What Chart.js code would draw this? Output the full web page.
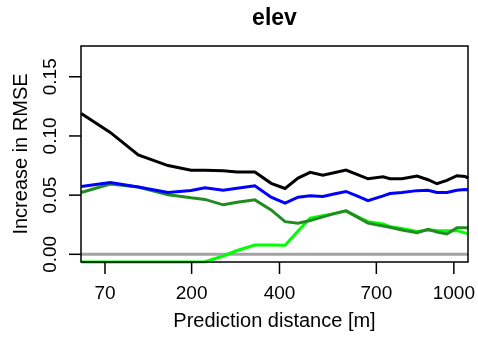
<!DOCTYPE html>
<html>
<head>
<meta charset="utf-8">
<script src="https://cdn.jsdelivr.net/npm/chart.js@4.4.0/dist/chart.umd.min.js"></script>
<style>
  body { margin: 0; background: #fff; }
  #wrap { width: 478px; height: 338px; }
</style>
</head>
<body>
<div id="wrap"><canvas id="chart" width="478" height="338"></canvas></div>
<script>
// prediction distances [m] (x axis is on a square-root scale)
const distances = [46, 76, 112, 158, 199, 226, 264, 295, 337, 378, 415, 451, 486, 524,
  562, 597, 633, 671, 724, 749, 793, 851, 894, 930, 971, 1013, 1048, 1061];

const blackLine = [0.119, 0.103, 0.084, 0.075, 0.071, 0.071, 0.0706, 0.0695, 0.0695, 0.060,
  0.0556, 0.0644, 0.0692, 0.0669, 0.0691, 0.0712, 0.0675, 0.0638, 0.0655, 0.0638,
  0.0638, 0.0661, 0.0630, 0.0596, 0.0624, 0.0664, 0.0658, 0.0644];
const blueLine = [0.0573, 0.0607, 0.0568, 0.0522, 0.0539, 0.0562, 0.0542, 0.0558, 0.0579, 0.0483,
  0.0432, 0.0483, 0.0494, 0.0488, 0.0511, 0.0531, 0.0494, 0.0454, 0.0494, 0.0514,
  0.0522, 0.0538, 0.0541, 0.0522, 0.0522, 0.0541, 0.0547, 0.0545];
const darkGreenLine = [0.0522, 0.0593, 0.0568, 0.0503, 0.0477, 0.0464, 0.0418, 0.0439, 0.0460, 0.0375,
  0.0276, 0.0263, 0.0285, 0.0316, 0.0346, 0.0367, 0.0316, 0.0263, 0.0240, 0.0229,
  0.0206, 0.0183, 0.0212, 0.0189, 0.0172, 0.0225, 0.0225, 0.0223];
const limeLine = [-0.0065, -0.0065, -0.0065, -0.0065, -0.0065, -0.0063, -0.0014, 0.0032, 0.0079, 0.0079,
  0.0076, 0.0197, 0.0305, 0.0325, 0.0346, 0.0367, 0.0320, 0.0276, 0.0257, 0.0234,
  0.0219, 0.0192, 0.0206, 0.0202, 0.0200, 0.0200, 0.0181, 0.0172];

const yTicks = [0, 0.05, 0.10, 0.15];
const yTickLabels = ['0.00', '0.05', '0.10', '0.15'];
const xTicks = [70, 200, 400, 700, 1000];
const xTickLabels = ['70', '200', '400', '700', '1000'];

const FONT = '"Liberation Sans", Arial, sans-serif';

function toPoints(values) {
  return values.map((v, i) => ({ x: Math.sqrt(distances[i]), y: v }));
}

function series(values, color) {
  return {
    data: toPoints(values),
    borderColor: color,
    borderWidth: 3,
    pointRadius: 0,
    tension: 0,
    fill: false,
    clip: 3
  };
}

// R style frame, ticks and labels
const rAxes = {
  id: 'rAxes',
  beforeDatasetsDraw(chart) {
    const ctx = chart.ctx;
    const a = chart.chartArea;
    const y0 = chart.scales.y.getPixelForValue(0);
    ctx.save();
    ctx.strokeStyle = '#a3a3a3';
    ctx.lineWidth = 3;
    ctx.beginPath();
    ctx.moveTo(a.left, y0);
    ctx.lineTo(a.right, y0);
    ctx.stroke();
    ctx.restore();
  },
  afterDraw(chart) {
    const ctx = chart.ctx;
    const a = chart.chartArea;
    const xs = chart.scales.x;
    const ys = chart.scales.y;
    ctx.save();
    ctx.strokeStyle = '#000';
    ctx.fillStyle = '#000';
    ctx.lineWidth = 1.5;
    ctx.strokeRect(a.left, a.top, a.right - a.left, a.bottom - a.top);

    ctx.font = '19px ' + FONT;
    ctx.textAlign = 'center';
    ctx.textBaseline = 'middle';
    yTicks.forEach((v, i) => {
      const y = ys.getPixelForValue(v);
      ctx.beginPath();
      ctx.moveTo(a.left - 12, y);
      ctx.lineTo(a.left, y);
      ctx.stroke();
      ctx.save();
      ctx.translate(51, y);
      ctx.rotate(-Math.PI / 2);
      ctx.fillText(yTickLabels[i], 0, 0);
      ctx.restore();
    });
    xTicks.forEach((d, i) => {
      const x = xs.getPixelForValue(Math.sqrt(d));
      ctx.beginPath();
      ctx.moveTo(x, a.bottom);
      ctx.lineTo(x, a.bottom + 12);
      ctx.stroke();
      ctx.fillText(xTickLabels[i], x, 294);
    });

    ctx.font = '20px ' + FONT;
    ctx.textBaseline = 'alphabetic';
    ctx.fillText('Prediction distance [m]', (a.left + a.right) / 2, 327);
    ctx.save();
    ctx.translate(21, (a.top + a.bottom) / 2);
    ctx.rotate(-Math.PI / 2);
    ctx.textBaseline = 'middle';
    ctx.fillText('Increase in RMSE', 0, 0);
    ctx.restore();

    ctx.font = 'bold 23px ' + FONT;
    ctx.fillText('elev', (a.left + a.right) / 2, 25);
    ctx.restore();
  }
};

new Chart(document.querySelector('#chart'), {
  type: 'line',
  data: {
    datasets: [
      series(blackLine, '#000000'),
      series(blueLine, '#0000ff'),
      series(darkGreenLine, '#228b22'),
      series(limeLine, '#00ff00')
    ]
  },
  options: {
    responsive: false,
    animation: false,
    layout: { padding: { left: 81, right: 10, top: 46, bottom: 76 } },
    plugins: { legend: { display: false }, tooltip: { enabled: false } },
    scales: {
      x: { type: 'linear', display: false, min: Math.sqrt(45.8), max: Math.sqrt(1060.6) },
      y: { display: false, min: -0.0065, max: 0.176 }
    }
  },
  plugins: [rAxes]
});
</script>
</body>
</html>
